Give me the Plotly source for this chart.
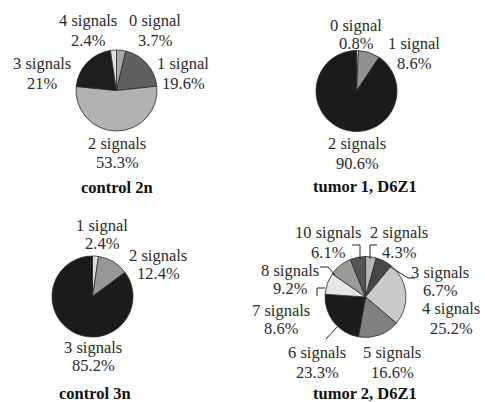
import plotly.graph_objects as go

W, H = 485, 402

# ---- data ----
c2n_labels = ["0 signal", "1 signal", "2 signals", "3 signals", "4 signals"]
c2n_values = [3.7, 19.6, 53.3, 21.0, 2.4]
c2n_text = ["3.7%", "19.6%", "53.3%", "21%", "2.4%"]

t1_labels = ["0 signal", "1 signal", "2 signals"]
t1_values = [0.8, 8.6, 90.6]
t1_text = ["0.8%", "8.6%", "90.6%"]

c3n_labels = ["1 signal", "2 signals", "3 signals"]
c3n_values = [2.4, 12.4, 85.2]
c3n_text = ["2.4%", "12.4%", "85.2%"]

t2_labels = ["2 signals", "3 signals", "4 signals", "5 signals",
             "6 signals", "7 signals", "8 signals", "10 signals"]
t2_values = [4.3, 6.7, 25.2, 16.6, 23.3, 8.6, 9.2, 6.1]
t2_text = ["4.3%", "6.7%", "25.2%", "16.6%", "23.3%", "8.6%", "9.2%", "6.1%"]

titles = ["control 2n", "tumor 1, D6Z1", "control 3n", "tumor 2, D6Z1"]

# ---- styles / layout ----
c2n_colors = ["#a8a8a8", "#606060", "#b2b2b4", "#1e1e1e", "#e2e2e2"]
t1_colors = ["#d6d6d6", "#909090", "#1b1b1b"]
c3n_colors = ["#dcdcdc", "#979797", "#1b1b1b"]
t2_colors = ["#b5b5b5", "#474747", "#c9c9c9", "#808080",
             "#1b1b1b", "#e6e6e6", "#9a9a9a", "#555555"]

pies = [
    (c2n_labels, c2n_values, c2n_text, c2n_colors, (116.5, 90.5, 40.5)),
    (t1_labels, t1_values, t1_text, t1_colors, (356.5, 91, 40.5)),
    (c3n_labels, c3n_values, c3n_text, c3n_colors, (92.5, 296.5, 40.5)),
    (t2_labels, t2_values, t2_text, t2_colors, (365.5, 297, 40.5)),
]

# (x centre, y of first line, y of second line) for each label, in pixels
label_pos = [
    [(155, 20, 40), (183, 63, 83), (117, 143, 162), (42, 63, 83), (88, 20, 40)],
    [(356, 25, 43), (414, 43, 63), (357, 143, 163)],
    [(102, 225, 243), (158, 255, 273), (93, 347, 365)],
    [(399, 232, 252), (440, 272, 290), (451, 308, 328), (392, 352, 372),
     (317, 352, 372), (281, 310, 328), (290, 270, 288), (328, 232, 252)],
]
title_pos = [(117, 187), (365, 186), (95, 393), (365, 393)]

leaders = [
    [(352, 245), (360, 245), (360, 259)],
    [(370, 259), (370, 245), (377, 245)],
    [(389, 266), (408, 278), (415, 278)],
    [(320, 267), (328, 267), (335, 275)],
    [(317, 296), (317, 288), (325, 288)],
    [(326, 339), (337, 327)],
]

FONT = "Liberation Serif"
FS = 16.5

fig = go.Figure()
annotations = []


def add_text(x, y, text, size, color):
    annotations.append(dict(
        x=x, y=y, xref="x", yref="y", text=text, showarrow=False,
        xanchor="center", yanchor="middle",
        font=dict(family=FONT, size=size, color=color)))


for (labels, values, texts, colors, (cx, cy, r)), lp in zip(pies, label_pos):
    fig.add_trace(go.Pie(
        labels=labels, values=values, sort=False, direction="clockwise",
        rotation=0, textinfo="none", hoverinfo="label+percent",
        marker=dict(colors=colors, line=dict(color="#2a2a2a", width=0.8)),
        domain=dict(x=[(cx - r) / W, (cx + r) / W],
                    y=[1 - (cy + r) / H, 1 - (cy - r) / H]),
        showlegend=False,
    ))
    for lab, txt, (x, y1, y2) in zip(labels, texts, lp):
        add_text(x, y1, lab, FS, "#2a2a2a")
        add_text(x, y2, txt, FS, "#2a2a2a")

for t, (x, y) in zip(titles, title_pos):
    add_text(x, y, f"<b>{t}</b>", FS, "#111111")

shapes = []
for pts in leaders:
    path = "M " + " L ".join(f"{x},{y}" for x, y in pts)
    shapes.append(dict(type="path", path=path, xref="x", yref="y",
                       line=dict(color="#222222", width=1)))

fig.update_layout(
    width=W, height=H, autosize=False,
    margin=dict(l=0, r=0, t=0, b=0),
    paper_bgcolor="white", plot_bgcolor="rgba(0,0,0,0)",
    font=dict(family=FONT),
    xaxis=dict(range=[0, W], visible=False, fixedrange=True),
    yaxis=dict(range=[H, 0], visible=False, fixedrange=True),
    annotations=annotations, shapes=shapes,
)

fig.write_html("out.html", config={"displayModeBar": False},
               post_script="document.body.style.margin='0';document.body.style.overflow='hidden';")
